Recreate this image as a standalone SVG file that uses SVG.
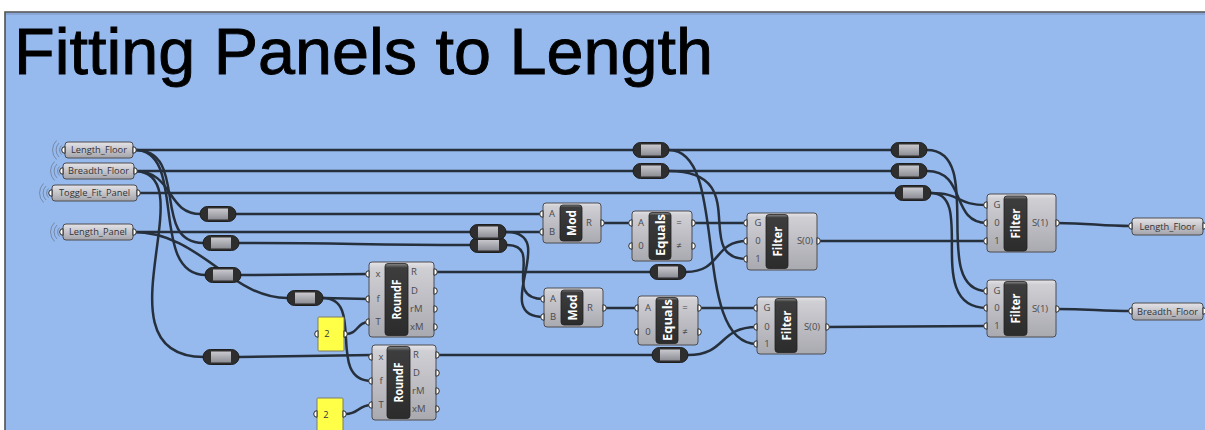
<svg xmlns="http://www.w3.org/2000/svg" xmlns:xlink="http://www.w3.org/1999/xlink" width="1205" height="430" viewBox="0 0 1205 430">
<defs>
<linearGradient id="gComp" x1="0" y1="0" x2="0" y2="1">
<stop offset="0" stop-color="#e6e6ea"/><stop offset="0.08" stop-color="#cfcfd4"/><stop offset="1" stop-color="#a9a9b0"/>
</linearGradient>
<linearGradient id="gNick" x1="0" y1="0" x2="0" y2="1">
<stop offset="0" stop-color="#8a8a8a"/><stop offset="0.06" stop-color="#3d3d3d"/><stop offset="1" stop-color="#2c2c2c"/>
</linearGradient>
<linearGradient id="gParam" x1="0" y1="0" x2="0" y2="1">
<stop offset="0" stop-color="#e4e4e8"/><stop offset="1" stop-color="#a3a3aa"/>
</linearGradient>
<linearGradient id="gRelay" x1="0" y1="0" x2="0" y2="1">
<stop offset="0" stop-color="#c9c9cf"/><stop offset="1" stop-color="#8d8d95"/>
</linearGradient>
<path id="pin" d="M0,-3.3 A3.3,3.3 0 0 0 0,3.3 Z"/>
<path id="pout" d="M0,-3.3 A3.3,3.3 0 0 1 0,3.3 Z"/>
<g id="waves" fill="none" stroke="#6f7d96" stroke-width="0.8">
<path d="M-4.5,-4.5 A6.4,6.4 0 0 0 -4.5,4.5"/>
<path d="M-7,-7 A9.9,9.9 0 0 0 -7,7"/>
<path d="M-9.5,-9.5 A13.4,13.4 0 0 0 -9.5,9.5"/>
</g>
</defs>
<style>
.wire{fill:none;stroke:#26303c;stroke-width:2.5;stroke-linecap:round}
.box{fill:url(#gComp);stroke:#4c4c50;stroke-width:1}
.nick{fill:url(#gNick);stroke:#222;stroke-width:0.8}
.nm{font-family:"Open Sans","DejaVu Sans",sans-serif;font-weight:bold;font-size:12.5px;fill:#ffffff;text-anchor:middle}
.lt{font-family:"Open Sans","DejaVu Sans",sans-serif;font-size:9.5px;fill:#4a4a4e;text-anchor:middle}
.ls{font-family:"Open Sans","DejaVu Sans",sans-serif;font-size:9.5px;fill:#4a4a4e;text-anchor:start}
.port{fill:#ffffff;stroke:#2a2a2a;stroke-width:1}
.param{fill:url(#gParam);stroke:#4c4c50;stroke-width:1}
.pt{font-family:"Open Sans","DejaVu Sans",sans-serif;font-size:9.3px;fill:#333338;text-anchor:middle}
.rl{fill:#2e2e2e;stroke:#1e1e1e;stroke-width:1}
.rm{fill:url(#gRelay)}
.panel{fill:#ffff48;stroke:#7d7d6a;stroke-width:1}
</style>

<rect x="0" y="0" width="1205" height="430" fill="#ffffff"/>
<rect x="5" y="12" width="1200" height="418" fill="#96b9ee"/>
<rect x="5" y="13" width="1200" height="2" fill="#8aa6d6"/>
<path d="M5,430 L5,12 L1205,12" fill="none" stroke="#505050" stroke-width="1.6"/>

<text x="14" y="74" font-family="Liberation Sans, Arial, sans-serif" font-size="65" fill="#000000" stroke="#000000" stroke-width="0.9" textLength="699" lengthAdjust="spacingAndGlyphs">Fitting Panels to Length</text>

<g id="connectors">
<path class="wire" d="M135,150 L634,150"/>
<path class="wire" d="M134,171 L634,171"/>
<path class="wire" d="M137,193 L896,193"/>
<path class="wire" d="M133,232 L470,232"/>
<path class="wire" d="M669,150 L892,150"/>
<path class="wire" d="M669,171 L892,171"/>
<path class="wire" d="M134,171 C175,171 165,214 201,214"/>
<path class="wire" d="M135,150 C190,150 150,243 203,243"/>
<path class="wire" d="M135,150 C188,150 148,275 206,275"/>
<path class="wire" d="M134,171 C208,171 92,357 204,357"/>
<path class="wire" d="M133,232 C200,232 230,298 287,298"/>
<path class="wire" d="M236,214 L543,214"/>
<path class="wire" d="M239,243 C350,243 360,245 470,245"/>
<path class="wire" d="M241,275 L369,274"/>
<path class="wire" d="M323,298 L369,299"/>
<path class="wire" d="M323,298 C366,298 325,381 372,381"/>
<path class="wire" d="M239,357 L372,355"/>
<path class="wire" d="M346,334 C358,334 357,322 369,322"/>
<path class="wire" d="M345,414 C360,414 357,405 372,405"/>
<path class="wire" d="M434,272 L651,272"/>
<path class="wire" d="M436,355 L653,355"/>
<path class="wire" d="M506,232 L543,232"/>
<path class="wire" d="M506,232 C562,232 488,317 544,317"/>
<path class="wire" d="M507,245 C545,245 500,299 544,299"/>
<path class="wire" d="M601,223 L632,223"/>
<path class="wire" d="M603,308 L638,308"/>
<path class="wire" d="M692,223 L747,223"/>
<path class="wire" d="M698,308 L757,308"/>
<path class="wire" d="M686,272 C722,272 713,241 747,241"/>
<path class="wire" d="M688,355 C727,355 718,327 757,327"/>
<path class="wire" d="M669,150 C730,150 690,344 757,344"/>
<path class="wire" d="M669,171 C755,171 690,259 747,259"/>
<path class="wire" d="M817,241 L987,241"/>
<path class="wire" d="M826,327 L987,326"/>
<path class="wire" d="M931,193 C962,193 955,205 987,205"/>
<path class="wire" d="M927,171 C967,171 950,223 987,223"/>
<path class="wire" d="M927,150 C987,150 928,291 987,291"/>
<path class="wire" d="M931,193 C977,193 922,308 987,308"/>
<path class="wire" d="M1056,223 C1092,223 1098,226 1132,226"/>
<path class="wire" d="M1056,309 C1092,309 1098,311 1132,311"/>
</g>

<g id="in_length_floor">
<use xlink:href="#waves" x="66" y="150"/>
<rect class="param" x="65" y="142" width="68" height="16" rx="3"/>
<text class="pt" x="99" y="153.3">Length_Floor</text>
<use xlink:href="#pin" class="port" x="65" y="150"/>
<use xlink:href="#pout" class="port" x="133" y="150"/>
</g>
<g id="in_breadth_floor">
<use xlink:href="#waves" x="64" y="171"/>
<rect class="param" x="63" y="163" width="71" height="16" rx="3"/>
<text class="pt" x="98.5" y="174.3">Breadth_Floor</text>
<use xlink:href="#pin" class="port" x="63" y="171"/>
<use xlink:href="#pout" class="port" x="134" y="171"/>
</g>
<g id="in_toggle">
<use xlink:href="#waves" x="53" y="193"/>
<rect class="param" x="52" y="185" width="85" height="16" rx="3"/>
<text class="pt" x="94.5" y="196.3">Toggle_Fit_Panel</text>
<use xlink:href="#pin" class="port" x="52" y="193"/>
<use xlink:href="#pout" class="port" x="137" y="193"/>
</g>
<g id="in_length_panel">
<use xlink:href="#waves" x="64" y="232"/>
<rect class="param" x="63" y="224" width="70" height="16" rx="3"/>
<text class="pt" x="98" y="235.3">Length_Panel</text>
<use xlink:href="#pin" class="port" x="63" y="232"/>
<use xlink:href="#pout" class="port" x="133" y="232"/>
</g>

<g id="relay_r1"><rect class="rl" x="200" y="206.5" width="36" height="15" rx="7.5"/><rect class="rm" x="208" y="208.5" width="20" height="11"/></g>
<g id="relay_r2"><rect class="rl" x="203" y="235.5" width="36" height="15" rx="7.5"/><rect class="rm" x="211" y="237.5" width="20" height="11"/></g>
<g id="relay_r3"><rect class="rl" x="205" y="267.5" width="36" height="15" rx="7.5"/><rect class="rm" x="213" y="269.5" width="20" height="11"/></g>
<g id="relay_r4"><rect class="rl" x="287" y="290.5" width="36" height="15" rx="7.5"/><rect class="rm" x="295" y="292.5" width="20" height="11"/></g>
<g id="relay_r5"><rect class="rl" x="203" y="349.5" width="36" height="15" rx="7.5"/><rect class="rm" x="211" y="351.5" width="20" height="11"/></g>
<g id="relay_p2"><rect class="rl" x="470" y="237.5" width="37" height="15" rx="7.5"/><rect class="rm" x="478" y="239.5" width="21" height="11"/></g>
<g id="relay_p1"><rect class="rl" x="470" y="224.5" width="36" height="15" rx="7.5"/><rect class="rm" x="478" y="226.5" width="20" height="11"/></g>
<g id="relay_ra1"><rect class="rl" x="633" y="142.5" width="36" height="15" rx="7.5"/><rect class="rm" x="641" y="144.5" width="20" height="11"/></g>
<g id="relay_ra2"><rect class="rl" x="633" y="163.5" width="36" height="15" rx="7.5"/><rect class="rm" x="641" y="165.5" width="20" height="11"/></g>
<g id="relay_rb1"><rect class="rl" x="891" y="142.5" width="36" height="15" rx="7.5"/><rect class="rm" x="899" y="144.5" width="20" height="11"/></g>
<g id="relay_rb2"><rect class="rl" x="891" y="163.5" width="36" height="15" rx="7.5"/><rect class="rm" x="899" y="165.5" width="20" height="11"/></g>
<g id="relay_rb3"><rect class="rl" x="895" y="185.5" width="36" height="15" rx="7.5"/><rect class="rm" x="903" y="187.5" width="20" height="11"/></g>
<g id="relay_rc"><rect class="rl" x="650" y="264.5" width="36" height="15" rx="7.5"/><rect class="rm" x="658" y="266.5" width="20" height="11"/></g>
<g id="relay_rd"><rect class="rl" x="652" y="347.5" width="36" height="15" rx="7.5"/><rect class="rm" x="660" y="349.5" width="20" height="11"/></g>

<g id="panel_2a">
<rect class="panel" x="318" y="317" width="26" height="34" rx="1"/>
<text class="pt" x="327" y="337">2</text>
<use xlink:href="#pin" class="port" x="318" y="334"/>
<use xlink:href="#pout" class="port" x="344" y="334"/>
</g>
<g id="panel_2b">
<rect class="panel" x="317" y="398" width="26" height="40" rx="1"/>
<text class="pt" x="326" y="418">2</text>
<use xlink:href="#pin" class="port" x="317" y="414"/>
<use xlink:href="#pout" class="port" x="343" y="414"/>
</g>

<g id="roundf1">
<rect class="box" x="369" y="262" width="65" height="75" rx="3"/>
<rect class="nick" x="385" y="263.5" width="23" height="72" rx="3"/>
<text class="nm" transform="translate(396.5,299.5) rotate(-90)" dy="0.36em" textLength="40" lengthAdjust="spacingAndGlyphs">RoundF</text>
<text class="lt" x="378" y="277">x</text>
<text class="lt" x="378" y="302">f</text>
<text class="lt" x="378" y="325">T</text>
<text class="ls" x="411" y="275">R</text>
<text class="ls" x="411" y="294">D</text>
<text class="ls" x="410" y="312">rM</text>
<text class="ls" x="410" y="330">xM</text>
<use xlink:href="#pin" class="port" x="369" y="274"/>
<use xlink:href="#pin" class="port" x="369" y="299"/>
<use xlink:href="#pin" class="port" x="369" y="322"/>
<use xlink:href="#pout" class="port" x="434" y="272"/>
<use xlink:href="#pout" class="port" x="434" y="291"/>
<use xlink:href="#pout" class="port" x="434" y="309"/>
<use xlink:href="#pout" class="port" x="434" y="327"/>
</g>
<g id="roundf2">
<rect class="box" x="372" y="345" width="64" height="75" rx="3"/>
<rect class="nick" x="387" y="346.5" width="23" height="72" rx="3"/>
<text class="nm" transform="translate(398.5,382.5) rotate(-90)" dy="0.36em" textLength="40" lengthAdjust="spacingAndGlyphs">RoundF</text>
<text class="lt" x="381" y="360">x</text>
<text class="lt" x="381" y="384">f</text>
<text class="lt" x="381" y="408">T</text>
<text class="ls" x="413" y="358">R</text>
<text class="ls" x="413" y="376">D</text>
<text class="ls" x="412" y="394">rM</text>
<text class="ls" x="412" y="412">xM</text>
<use xlink:href="#pin" class="port" x="372" y="357"/>
<use xlink:href="#pin" class="port" x="372" y="381"/>
<use xlink:href="#pin" class="port" x="372" y="405"/>
<use xlink:href="#pout" class="port" x="436" y="355"/>
<use xlink:href="#pout" class="port" x="436" y="373"/>
<use xlink:href="#pout" class="port" x="436" y="391"/>
<use xlink:href="#pout" class="port" x="436" y="409"/>
</g>

<g id="mod1">
<rect class="box" x="543" y="203" width="58" height="40" rx="3"/>
<rect class="nick" x="560" y="205" width="22" height="36" rx="3"/>
<text class="nm" transform="translate(571,223) rotate(-90)" dy="0.36em" textLength="26" lengthAdjust="spacingAndGlyphs">Mod</text>
<text class="lt" x="552" y="217">A</text>
<text class="lt" x="552" y="235">B</text>
<text class="lt" x="589" y="226">R</text>
<use xlink:href="#pin" class="port" x="543" y="214"/>
<use xlink:href="#pin" class="port" x="543" y="232"/>
<use xlink:href="#pout" class="port" x="601" y="223"/>
</g>
<g id="mod2">
<rect class="box" x="544" y="288" width="59" height="39" rx="3"/>
<rect class="nick" x="561" y="290" width="22" height="35" rx="3"/>
<text class="nm" transform="translate(572,307.5) rotate(-90)" dy="0.36em" textLength="26" lengthAdjust="spacingAndGlyphs">Mod</text>
<text class="lt" x="553" y="302">A</text>
<text class="lt" x="553" y="320">B</text>
<text class="lt" x="590" y="311">R</text>
<use xlink:href="#pin" class="port" x="544" y="299"/>
<use xlink:href="#pin" class="port" x="544" y="317"/>
<use xlink:href="#pout" class="port" x="603" y="308"/>
</g>

<g id="equals1">
<rect class="box" x="632" y="211" width="60" height="50" rx="3"/>
<rect class="nick" x="649" y="212.5" width="22" height="47" rx="3"/>
<text class="nm" transform="translate(660,235) rotate(-90)" dy="0.36em" textLength="42" lengthAdjust="spacingAndGlyphs">Equals</text>
<text class="lt" x="641" y="226">A</text>
<text class="lt" x="641" y="249">0</text>
<text class="lt" x="679" y="226">=</text>
<text class="lt" x="679" y="249">≠</text>
<use xlink:href="#pin" class="port" x="632" y="223"/>
<use xlink:href="#pin" class="port" x="632" y="246"/>
<use xlink:href="#pout" class="port" x="692" y="223"/>
<use xlink:href="#pout" class="port" x="692" y="246"/>
</g>
<g id="equals2">
<rect class="box" x="638" y="296" width="60" height="49" rx="3"/>
<rect class="nick" x="656" y="297.5" width="22" height="46" rx="3"/>
<text class="nm" transform="translate(667,320) rotate(-90)" dy="0.36em" textLength="42" lengthAdjust="spacingAndGlyphs">Equals</text>
<text class="lt" x="648" y="311">A</text>
<text class="lt" x="648" y="335">0</text>
<text class="lt" x="685" y="311">=</text>
<text class="lt" x="685" y="335">≠</text>
<use xlink:href="#pin" class="port" x="638" y="308"/>
<use xlink:href="#pin" class="port" x="638" y="332"/>
<use xlink:href="#pout" class="port" x="698" y="308"/>
<use xlink:href="#pout" class="port" x="698" y="332"/>
</g>

<g id="filter1">
<rect class="box" x="747" y="213" width="70" height="57" rx="3"/>
<rect class="nick" x="766" y="214.5" width="22" height="54" rx="3"/>
<text class="nm" transform="translate(777,241.5) rotate(-90)" dy="0.36em" textLength="30" lengthAdjust="spacingAndGlyphs">Filter</text>
<text class="lt" x="758" y="226">G</text>
<text class="lt" x="758" y="244">0</text>
<text class="lt" x="758" y="262">1</text>
<text class="lt" x="805" y="244">S(0)</text>
<use xlink:href="#pin" class="port" x="747" y="223"/>
<use xlink:href="#pin" class="port" x="747" y="241"/>
<use xlink:href="#pin" class="port" x="747" y="259"/>
<use xlink:href="#pout" class="port" x="817" y="241"/>
</g>
<g id="filter2">
<rect class="box" x="757" y="297" width="69" height="57" rx="3"/>
<rect class="nick" x="775" y="298.5" width="22" height="54" rx="3"/>
<text class="nm" transform="translate(786,325.5) rotate(-90)" dy="0.36em" textLength="30" lengthAdjust="spacingAndGlyphs">Filter</text>
<text class="lt" x="767" y="311">G</text>
<text class="lt" x="767" y="330">0</text>
<text class="lt" x="767" y="347">1</text>
<text class="lt" x="812" y="330">S(0)</text>
<use xlink:href="#pin" class="port" x="757" y="308"/>
<use xlink:href="#pin" class="port" x="757" y="327"/>
<use xlink:href="#pin" class="port" x="757" y="344"/>
<use xlink:href="#pout" class="port" x="826" y="327"/>
</g>
<g id="filter3">
<rect class="box" x="987" y="194" width="69" height="58" rx="3"/>
<rect class="nick" x="1004" y="196" width="23" height="55" rx="3"/>
<text class="nm" transform="translate(1015.5,223.5) rotate(-90)" dy="0.36em" textLength="30" lengthAdjust="spacingAndGlyphs">Filter</text>
<text class="lt" x="997" y="208">G</text>
<text class="lt" x="997" y="226">0</text>
<text class="lt" x="997" y="244">1</text>
<text class="lt" x="1040" y="226">S(1)</text>
<use xlink:href="#pin" class="port" x="987" y="205"/>
<use xlink:href="#pin" class="port" x="987" y="223"/>
<use xlink:href="#pin" class="port" x="987" y="241"/>
<use xlink:href="#pout" class="port" x="1056" y="223"/>
</g>
<g id="filter4">
<rect class="box" x="987" y="280" width="69" height="57" rx="3"/>
<rect class="nick" x="1004" y="281.5" width="23" height="54" rx="3"/>
<text class="nm" transform="translate(1015.5,308.5) rotate(-90)" dy="0.36em" textLength="30" lengthAdjust="spacingAndGlyphs">Filter</text>
<text class="lt" x="997" y="294">G</text>
<text class="lt" x="997" y="311">0</text>
<text class="lt" x="997" y="329">1</text>
<text class="lt" x="1040" y="312">S(1)</text>
<use xlink:href="#pin" class="port" x="987" y="291"/>
<use xlink:href="#pin" class="port" x="987" y="308"/>
<use xlink:href="#pin" class="port" x="987" y="326"/>
<use xlink:href="#pout" class="port" x="1056" y="309"/>
</g>

<g id="out_length_floor">
<rect class="param" x="1132" y="218" width="71" height="17" rx="3"/>
<text class="pt" x="1167.5" y="229.5">Length_Floor</text>
<use xlink:href="#pin" class="port" x="1132" y="226"/>
<use xlink:href="#pout" class="port" x="1203" y="226"/>
</g>
<g id="out_breadth_floor">
<rect class="param" x="1132" y="303" width="71" height="17" rx="3"/>
<text class="pt" x="1167.5" y="314.5">Breadth_Floor</text>
<use xlink:href="#pin" class="port" x="1132" y="311"/>
<use xlink:href="#pout" class="port" x="1203" y="311"/>
</g>
</svg>
